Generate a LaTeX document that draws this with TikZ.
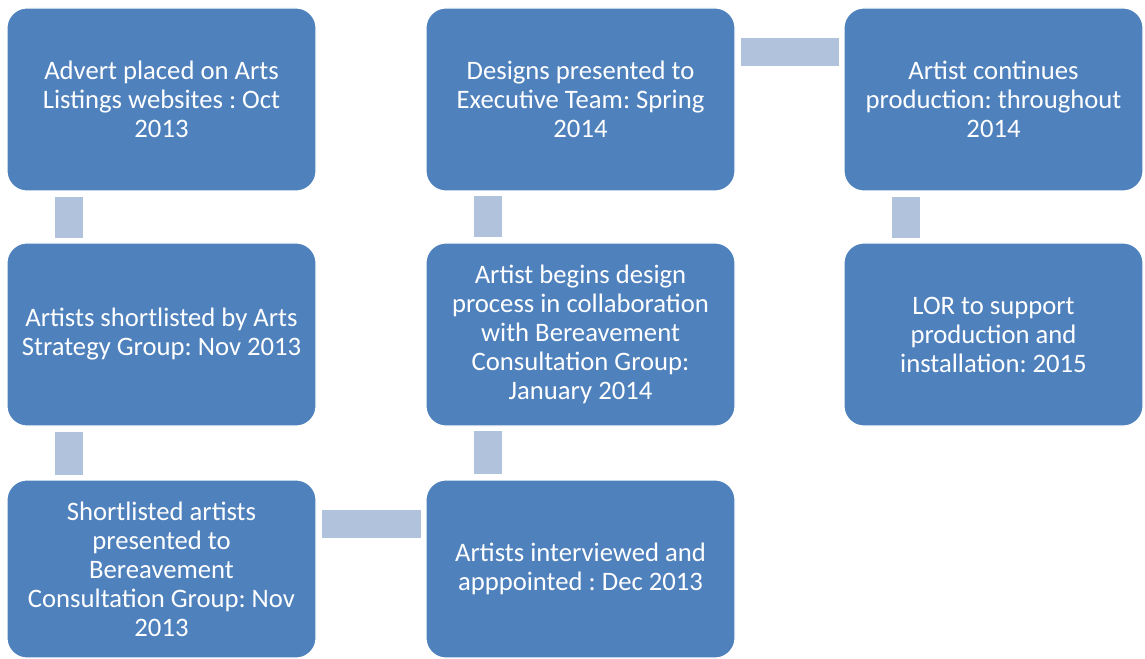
\documentclass[tikz,border=0pt]{standalone}
\usepackage{fontspec}
\setmainfont{Carlito}
\usetikzlibrary{positioning,calc}
\definecolor{stage}{HTML}{4F81BD}
\definecolor{linkfill}{HTML}{B1C2DC}
\tikzset{
  every node/.style={font=\fontsize{20}{21.75}\selectfont,text=white},
  stagebox/.style={draw=white,line width=0.8pt,fill=stage,rounded corners=15pt,outer sep=0pt,
    minimum width=231.75pt,minimum height=137.25pt,align=center,inner sep=2pt},
  link/.style={draw=linkfill,line width=21pt,shorten <=4.5pt,shorten >=4pt},
}
\frenchspacing

\begin{document}
\begin{tikzpicture}[x=0.75pt,y=-0.75pt,node distance=39pt and 82.5pt]
\useasboundingbox (0,0) rectangle (1145,659);

% first column, top to bottom
\node[stagebox,anchor=north west] (advert) at (7,8)
{Advert placed on Arts\\ Listings websites : Oct\\ 2013};
\node[stagebox,below=39pt of advert] (shortlist)
{Artists shortlisted by Arts\\ Strategy Group: Nov 2013};
\node[stagebox,minimum height=133.5pt,below=40.5pt of shortlist] (presented)
{Shortlisted artists\\ presented to\\ Bereavement\\ Consultation Group: Nov\\ 2013};

% second column, bottom to top
\node[stagebox,minimum height=133.5pt,right=82.5pt of presented] (interview)
{Artists interviewed and\\ apppointed : Dec 2013};
\node[stagebox,right=82.5pt of shortlist] (design)
{Artist begins design\\ process in collaboration\\ with Bereavement\\ Consultation Group:\\ January 2014};
\node[stagebox,right=82.5pt of advert] (exec)
{Designs presented to\\ Executive Team: Spring\\ 2014};

% third column
\node[stagebox,minimum width=224.25pt,right=81.75pt of exec] (continues)
{Artist continues\\ production: throughout\\ 2014};
\node[stagebox,minimum width=224.25pt,below=39pt of continues] (lor)
{LOR to support\\ production and\\ installation: 2015};

% flat connectors
\draw[link] ($(advert.south west)+(61.5,0)$) -- ($(shortlist.north west)+(61.5,0)$);
\draw[link] ($(shortlist.south west)+(61.5,0)$) -- ($(presented.north west)+(61.5,0)$);
\draw[link] ($(presented.north east)+(0,44)$) -- ($(interview.north west)+(0,44)$);
\draw[link] ($(interview.north west)+(61.5,0)$) -- ($(design.south west)+(61.5,0)$);
\draw[link] ($(design.north west)+(61.5,0)$) -- ($(exec.south west)+(61.5,0)$);
\draw[link] ($(exec.north east)+(0,44)$) -- ($(continues.north west)+(0,44)$);
\draw[link] ($(continues.south west)+(61.5,0)$) -- ($(lor.north west)+(61.5,0)$);

\end{tikzpicture}
\end{document}
